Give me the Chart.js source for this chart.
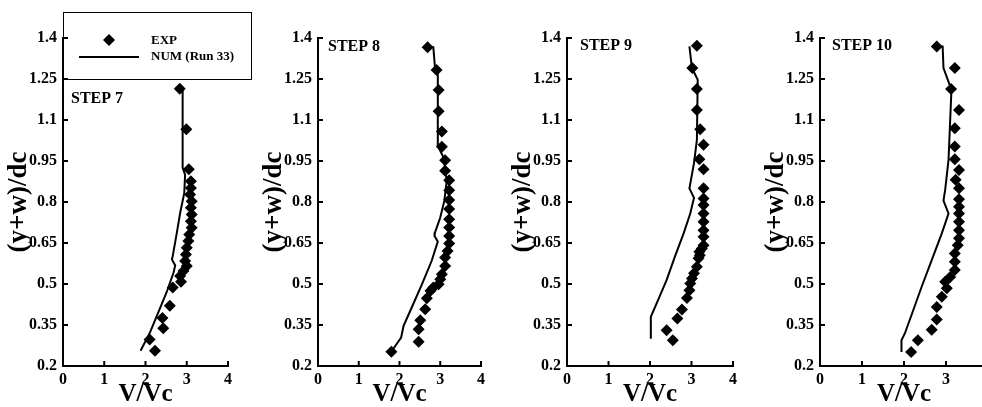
<!DOCTYPE html>
<html>
<head>
<meta charset="utf-8">
<script src="https://cdn.jsdelivr.net/npm/chart.js@4.4.0/dist/chart.umd.min.js"></script>
<style>
  html, body { margin: 0; padding: 0; background: #fff; }
  #wrap { position: relative; width: 982px; height: 407px; overflow: hidden; }
  #wrap canvas { position: absolute; top: 0; }
</style>
</head>
<body>
<div id="wrap">
  <canvas id="step7" width="250" height="407" style="left:3px"></canvas>
  <canvas id="step8" width="235" height="407" style="left:258px"></canvas>
  <canvas id="step9" width="238" height="407" style="left:507px"></canvas>
  <canvas id="step10" width="240" height="407" style="left:760px"></canvas>
</div>
<script>
var xTicks = [0, 1, 2, 3, 4];
var yTicks = [0.2, 0.35, 0.5, 0.65, 0.8, 0.95, 1.1, 1.25, 1.4];

// STEP 7
var step7ExpV = [2.83, 2.99, 3.05, 3.10, 3.10, 3.08, 3.12, 3.10, 3.12, 3.10, 3.12, 3.06, 3.04, 3.00, 2.98, 2.96, 3.00, 2.92, 2.84, 2.86, 2.66, 2.59, 2.41, 2.43, 2.10, 2.23];
var step7ExpY = [1.214, 1.066, 0.920, 0.876, 0.851, 0.827, 0.803, 0.779, 0.754, 0.730, 0.706, 0.681, 0.657, 0.633, 0.608, 0.584, 0.566, 0.548, 0.529, 0.508, 0.487, 0.420, 0.376, 0.338, 0.297, 0.256];
var step7NumV = [2.90, 2.90, 2.96, 2.94, 2.84, 2.76, 2.66, 2.64, 2.72, 2.68, 2.51, 2.31, 2.11, 1.88];
var step7NumY = [1.218, 0.925, 0.900, 0.833, 0.760, 0.688, 0.602, 0.590, 0.568, 0.542, 0.469, 0.396, 0.323, 0.256];

// STEP 8
var step8ExpV = [2.69, 2.91, 2.96, 2.96, 3.04, 3.04, 3.12, 3.12, 3.22, 3.22, 3.22, 3.22, 3.22, 3.22, 3.22, 3.22, 3.18, 3.12, 3.12, 3.04, 3.00, 2.96, 2.83, 2.76, 2.67, 2.63, 2.51, 2.47, 2.47, 1.80];
var step8ExpY = [1.366, 1.283, 1.210, 1.132, 1.058, 1.002, 0.953, 0.914, 0.880, 0.843, 0.807, 0.774, 0.737, 0.707, 0.676, 0.648, 0.621, 0.597, 0.566, 0.536, 0.517, 0.499, 0.487, 0.475, 0.448, 0.408, 0.367, 0.334, 0.289, 0.252];
var step8NumV = [2.75, 2.83, 2.87, 2.94, 2.94, 3.08, 3.16, 3.10, 3.00, 2.87, 2.86, 2.94, 2.79, 2.55, 2.30, 2.10, 2.04, 1.81];
var step8NumY = [1.366, 1.366, 1.293, 1.274, 1.006, 0.963, 0.878, 0.804, 0.743, 0.688, 0.676, 0.655, 0.585, 0.499, 0.414, 0.347, 0.304, 0.255];

// STEP 9
var step9ExpV = [3.13, 3.02, 3.13, 3.13, 3.21, 3.29, 3.19, 3.29, 3.29, 3.29, 3.29, 3.29, 3.29, 3.29, 3.29, 3.29, 3.25, 3.19, 3.20, 3.17, 3.13, 3.06, 3.01, 2.97, 2.95, 2.89, 2.77, 2.66, 2.40, 2.55];
var step9ExpY = [1.372, 1.290, 1.213, 1.137, 1.066, 1.009, 0.956, 0.920, 0.850, 0.813, 0.789, 0.758, 0.728, 0.697, 0.673, 0.642, 0.630, 0.618, 0.605, 0.594, 0.563, 0.539, 0.520, 0.502, 0.477, 0.449, 0.407, 0.374, 0.331, 0.294];
var step9NumV = [2.95, 3.01, 3.15, 3.13, 3.06, 2.95, 3.06, 2.97, 2.81, 2.60, 2.40, 2.16, 2.02, 2.02];
var step9NumY = [1.369, 1.290, 1.247, 1.027, 0.942, 0.850, 0.815, 0.758, 0.685, 0.600, 0.514, 0.429, 0.380, 0.300];

// STEP 10
var step10ExpV = [2.78, 3.21, 3.12, 3.31, 3.21, 3.21, 3.21, 3.31, 3.23, 3.31, 3.31, 3.31, 3.31, 3.31, 3.31, 3.31, 3.28, 3.21, 3.21, 3.21, 3.10, 2.98, 3.02, 2.90, 2.78, 2.78, 2.66, 2.33, 2.17];
var step10ExpY = [1.369, 1.290, 1.213, 1.137, 1.070, 1.003, 0.956, 0.917, 0.881, 0.850, 0.810, 0.783, 0.758, 0.728, 0.697, 0.667, 0.642, 0.612, 0.581, 0.551, 0.526, 0.508, 0.484, 0.453, 0.416, 0.370, 0.333, 0.294, 0.251];
var step10NumV = [2.80, 2.92, 2.94, 3.13, 3.06, 2.98, 2.94, 3.06, 2.90, 2.66, 2.42, 2.22, 2.02, 1.94, 1.94];
var step10NumY = [1.369, 1.369, 1.290, 1.211, 0.954, 0.844, 0.805, 0.758, 0.685, 0.587, 0.490, 0.404, 0.319, 0.294, 0.251];

var SERIF = "'Liberation Serif', 'Times New Roman', serif";

function pairs(xs, ys) {
  return xs.map(function (v, i) { return { x: v, y: ys[i] }; });
}

function drawDiamond(ctx, x, y, r) {
  ctx.beginPath();
  ctx.moveTo(x, y - r); ctx.lineTo(x + r, y); ctx.lineTo(x, y + r); ctx.lineTo(x - r, y);
  ctx.closePath();
  ctx.fill();
}

// MATLAB-style tick marks drawn inward
var innerTicks = {
  id: 'innerTicks',
  afterDraw: function (chart) {
    var ctx = chart.ctx, a = chart.chartArea;
    var xs = chart.scales.x, ys = chart.scales.y;
    ctx.save();
    ctx.strokeStyle = '#000';
    ctx.lineWidth = 2;
    ctx.beginPath();
    xs.ticks.forEach(function (t) {
      var p = xs.getPixelForValue(t.value);
      ctx.moveTo(p, a.bottom); ctx.lineTo(p, a.bottom - 5);
    });
    ys.ticks.forEach(function (t) {
      var p = ys.getPixelForValue(t.value);
      ctx.moveTo(a.left, p); ctx.lineTo(a.left + 5, p);
    });
    ctx.stroke();
    ctx.restore();
  }
};

// step label and (first panel only) the legend box
var panelText = {
  id: 'panelText',
  afterDraw: function (chart, args, opts) {
    var ctx = chart.ctx, a = chart.chartArea;
    ctx.save();
    ctx.fillStyle = '#000';
    ctx.font = 'bold 16px ' + SERIF;
    ctx.textBaseline = 'middle';
    ctx.fillText(opts.text, a.left + opts.dx, opts.y);
    if (opts.legend) {
      var top = 12, bottom = chart.scales.y.getPixelForValue(1.25);
      var left = a.left, right = a.left + 188;
      ctx.strokeStyle = '#000';
      ctx.lineWidth = 1;
      ctx.strokeRect(left + 0.5, top + 0.5, right - left, bottom - top);
      drawDiamond(ctx, left + 46, top + 28, 6);
      ctx.lineWidth = 2;
      ctx.beginPath();
      ctx.moveTo(left + 16, top + 45); ctx.lineTo(left + 76, top + 45);
      ctx.stroke();
      ctx.font = 'bold 13px ' + SERIF;
      ctx.fillText('EXP', left + 88, top + 29);
      ctx.fillText('NUM (Run 33)', left + 88, top + 45);
    }
    ctx.restore();
  }
};

function makePanel(canvasId, expV, expY, numV, numY, rightPad, label) {
  var canvas = document.getElementById(canvasId);
  return new Chart(canvas, {
    type: 'scatter',
    data: {
      datasets: [
        {
          label: 'NUM (Run 33)',
          data: pairs(numV, numY),
          showLine: true,
          borderColor: '#000',
          borderWidth: 2,
          pointRadius: 0,
          tension: 0,
          order: 2
        },
        {
          label: 'EXP',
          data: pairs(expV, expY),
          pointStyle: 'rectRot',
          pointRadius: 6,
          backgroundColor: '#000',
          borderWidth: 0,
          order: 1
        }
      ]
    },
    options: {
      responsive: false,
      animation: false,
      events: [],
      layout: { padding: { top: 38, right: rightPad, bottom: 0, left: 0 } },
      plugins: {
        legend: { display: false },
        tooltip: { enabled: false },
        panelText: label
      },
      scales: {
        x: {
          type: 'linear',
          min: 0, max: 4,
          afterBuildTicks: function (s) { s.ticks = xTicks.map(function (v) { return { value: v }; }); },
          afterFit: function (s) { s.height = 41; },
          grid: { display: true, drawOnChartArea: false, drawTicks: false },
          border: { display: true, color: '#000', width: 2 },
          ticks: { color: '#000', padding: 4, font: { family: SERIF, weight: 'bold', size: 16 } },
          title: {
            display: true, text: 'V/Vc', color: '#000', padding: 0,
            font: { family: SERIF, weight: 'bold', size: 25, lineHeight: 1 }
          }
        },
        y: {
          type: 'linear',
          min: 0.2, max: 1.4,
          afterBuildTicks: function (s) { s.ticks = yTicks.map(function (v) { return { value: v }; }); },
          afterFit: function (s) { s.width = 60; },
          grid: { display: true, drawOnChartArea: false, drawTicks: false },
          border: { display: true, color: '#000', width: 2 },
          ticks: {
            color: '#000', padding: 6,
            font: { family: SERIF, weight: 'bold', size: 16 },
            callback: function (v) { return String(v); }
          },
          title: {
            display: true, text: '(y+w)/dc', color: '#000', padding: 0,
            font: { family: SERIF, weight: 'bold', size: 27, lineHeight: 1.2 }
          }
        }
      }
    },
    plugins: [innerTicks, panelText]
  });
}

makePanel('step7', step7ExpV, step7ExpY, step7NumV, step7NumY, 25, { text: 'STEP 7', dx: 8, y: 99, legend: true });
makePanel('step8', step8ExpV, step8ExpY, step8NumV, step8NumY, 12, { text: 'STEP 8', dx: 10, y: 47 });
makePanel('step9', step9ExpV, step9ExpY, step9NumV, step9NumY, 12, { text: 'STEP 9', dx: 13, y: 46 });
makePanel('step10', step10ExpV, step10ExpY, step10NumV, step10NumY, 12, { text: 'STEP 10', dx: 12, y: 46 });
</script>
</body>
</html>
